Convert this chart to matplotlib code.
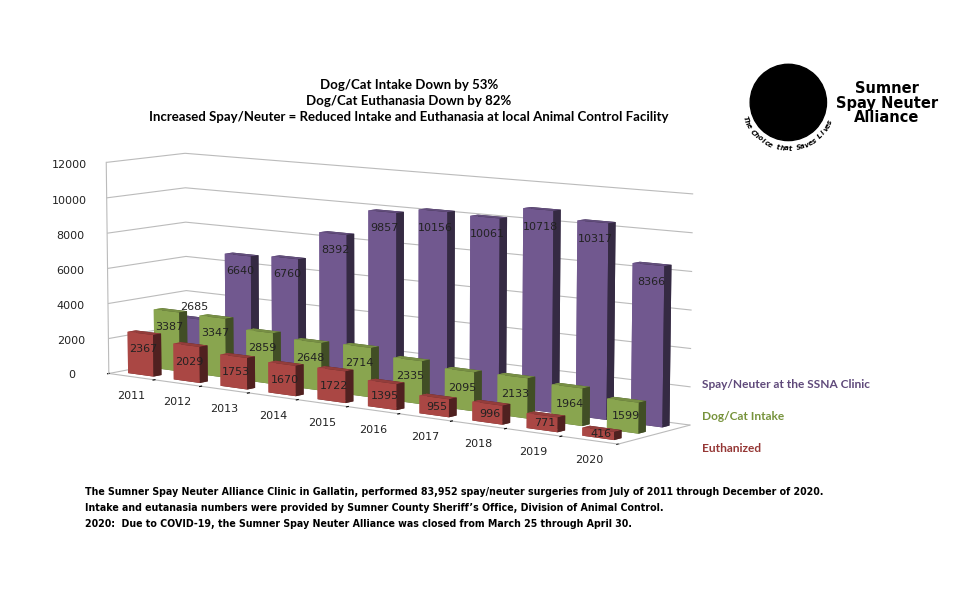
import matplotlib.pyplot as plt
import numpy as np
from matplotlib.patches import Circle
from mpl_toolkits.mplot3d import proj3d

years = ['2011', '2012', '2013', '2014', '2015', '2016', '2017', '2018', '2019', '2020']
spay_neuter = [2685, 6640, 6760, 8392, 9857, 10156, 10061, 10718, 10317, 8366]
intake = [3387, 3347, 2859, 2648, 2714, 2335, 2095, 2133, 1964, 1599]
euthanized = [2367, 2029, 1753, 1670, 1722, 1395, 955, 996, 771, 416]

series = [euthanized, intake, spay_neuter]
colors = ['#C0504D', '#9BBB59', '#8064A2']
names = ['Spay/Neuter at the SSNA Clinic', 'Dog/Cat Intake', 'Euthanized']
name_colors = ['#5F497A', '#77933C', '#953735']

fig = plt.figure(figsize=(9.6, 5.92), dpi=100)
ax = fig.add_axes([-0.019, 0.133, 0.83, 0.74], projection='3d')

x = np.arange(len(years))
bw = 0.56
bd = 0.3
for row, (vals, col) in enumerate(zip(series, colors)):
    bars = ax.bar3d(x - bw / 2, np.full(len(x), row) - bd / 2, np.zeros(len(x)),
                    bw, bd, vals, color=col, shade=True, edgecolor='none', zsort='average')
    bars.set_clip_on(False)

ax.set_xlim(-0.5, len(years) - 0.5)
ax.set_ylim(-0.5, 2.5)
ax.set_zlim(0, 12000)
ax.set_xticks(np.arange(len(years) + 1) - 0.5)
ax.set_xticklabels([''] * (len(years) + 1))
ax.set_yticks([])
ax.set_zticks(range(0, 12001, 2000))
ax.set_zticklabels([str(v) for v in range(0, 12001, 2000)], fontsize=8, color='#222222')
ax.set_box_aspect((4.272, 0.82, 1.48), zoom=1.533)
ax.view_init(elev=8, azim=-52)
ax.set_proj_type('persp', focal_length=1.35)
ax.zaxis._axinfo['juggled'] = (1, 2, 0)
ax.zaxis._axinfo['tick']['inward_factor'] = 0
ax.zaxis._axinfo['tick']['outward_factor'] = 0

for a in (ax.xaxis, ax.yaxis, ax.zaxis):
    a.set_pane_color((1, 1, 1, 0))
    a.line.set_color('#bbbbbb')
ax.xaxis._axinfo['grid']['linewidth'] = 0
ax.yaxis._axinfo['grid']['linewidth'] = 0
ax.zaxis._axinfo['grid']['color'] = '#bbbbbb'
ax.zaxis._axinfo['grid']['linewidth'] = 0.8
ax.xaxis._axinfo['tick']['color'] = '#999999'

# value labels and year labels, projected to 2D
fig.canvas.draw()
M = ax.get_proj()
for row, vals in enumerate(series):
    for xi, v in zip(x, vals):
        zt = max(v - 900, v * 0.5)
        if row == 2 and v < intake[xi] + 1000:
            zt = v + 700
        px, py, _ = proj3d.proj_transform(xi + 0.05, row - bd / 2, zt, M)
        ax.text2D(px, py, str(v), transform=ax.transData, fontsize=8,
                  ha='center', va='center', color='#222222', zorder=10)
for xi, yr in zip(x, years):
    px, py, _ = proj3d.proj_transform(xi, -0.5, 0, M)
    ax.annotate(yr, (px, py), xycoords='data', xytext=(0, -14), textcoords='offset points',
                fontsize=8, ha='center', va='center', color='#222222',
                annotation_clip=False)

fig.text(0.426, 0.829, 'Dog/Cat Intake Down by 53%\nDog/Cat Euthanasia Down by 82%\n'
         'Increased Spay/Neuter = Reduced Intake and Euthanasia at local Animal Control Facility',
         ha='center', va='center', fontsize=9.5, fontweight='bold', family='Lato',
         linespacing=1.4)

for i, (n, c) in enumerate(zip(names, name_colors)):
    fig.text(0.731, 0.350 - i * 0.054, n, fontsize=8.6, fontweight='bold', color=c,
             family='Lato', va='center')

# logo
lax = fig.add_axes([0.757, 0.715, 0.12, 0.19])
lax.set_xlim(-1.4, 1.4)
lax.set_ylim(-1.4, 1.4)
lax.set_aspect('equal')
lax.axis('off')
lax.add_patch(Circle((0.1, 0.25), 0.95, color='black'))
msg = 'The Choice that Saves Lives'
angs = np.linspace(200, 335, len(msg))
for ch, a in zip(msg, angs):
    r = 1.15
    lax.text(0.1 + r * np.cos(np.radians(a)), 0.25 + r * np.sin(np.radians(a)), ch,
             rotation=a + 90, ha='center', va='center', fontsize=5, style='italic',
             fontweight='bold', rotation_mode='anchor')
fig.text(0.924, 0.826, 'Sumner\nSpay Neuter\nAlliance', ha='center', va='center',
         fontsize=10.5, fontweight='bold', linespacing=0.95)

fig.text(0.089, 0.178, 'The Sumner Spay Neuter Alliance Clinic in Gallatin, performed 83,952 '
         'spay/neuter surgeries from July of 2011 through December of 2020.\n'
         'Intake and eutanasia numbers were provided by Sumner County Sheriff\u2019s Office, '
         'Division of Animal Control.\n'
         '2020:  Due to COVID-19, the Sumner Spay Neuter Alliance was closed from March 25 '
         'through April 30.', fontsize=6.85, fontweight='bold', family='Liberation Sans Narrow',
         va='top', linespacing=1.75)

fig.savefig('out.png', dpi=100)
